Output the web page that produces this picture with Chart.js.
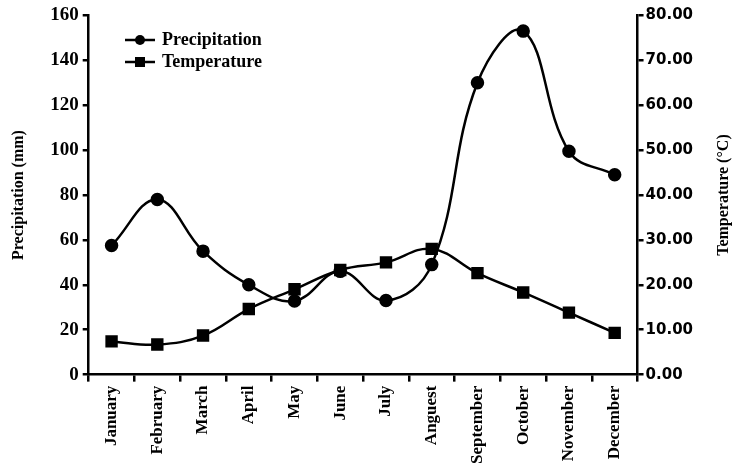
<!DOCTYPE html>
<html>
<head>
<meta charset="utf-8">
<script src="https://cdn.jsdelivr.net/npm/chart.js@4.4.1/dist/chart.umd.min.js"></script>
<style>
  html, body { margin: 0; padding: 0; background: #fff; }
  #wrap { width: 733px; height: 476px; }
</style>
</head>
<body>
<div id="wrap"><canvas id="chart" width="733" height="476"></canvas></div>
<script>
const months = ["January", "February", "March", "April", "May", "June", "July", "Anguest", "September", "October", "November", "December"];
const precipitation = [57.5, 78, 55, 40, 32.8, 46, 33, 49, 130, 153, 99.5, 89];
const temperature = [7.4, 6.7, 8.7, 14.6, 19, 23.3, 25, 28, 22.6, 18.3, 13.8, 9.3];

const serif = "'Liberation Serif', 'Times New Roman', serif";
const sans = "'DejaVu Sans', sans-serif";

// legend + right title drawn by hand to match the original
const extras = {
    id: "extras",
    afterDraw(chart) {
        const ctx = chart.ctx;
        ctx.save();
        ctx.strokeStyle = "#000";
        ctx.fillStyle = "#000";
        ctx.lineWidth = 2.5;
        const items = [
            { label: "Precipitation", y: 40, style: "circle" },
            { label: "Temperature", y: 62, style: "rect" }
        ];
        items.forEach(it => {
            ctx.beginPath();
            ctx.moveTo(125, it.y);
            ctx.lineTo(155, it.y);
            ctx.stroke();
            if (it.style === "circle") {
                ctx.beginPath();
                ctx.arc(140, it.y, 5, 0, Math.PI * 2);
                ctx.fill();
            } else {
                ctx.fillRect(135, it.y - 5, 10, 10);
            }
            ctx.font = "bold 18px " + serif;
            ctx.textBaseline = "middle";
            ctx.textAlign = "left";
            ctx.fillText(it.label, 162, it.y);
        });
        // right axis title, reading bottom to top
        const a = chart.chartArea;
        ctx.translate(chart.width - 9, (a.top + a.bottom) / 2);
        ctx.rotate(-Math.PI / 2);
        ctx.textAlign = "center";
        ctx.textBaseline = "middle";
        ctx.font = "bold 16px " + serif;
        ctx.fillText("Temperature (\u00B0C)", 0, 0);
        ctx.restore();
    }
};

new Chart(document.getElementById("chart"), {
    type: "line",
    data: {
        labels: months,
        datasets: [
            {
                label: "Precipitation",
                data: precipitation,
                yAxisID: "y",
                borderColor: "#000",
                backgroundColor: "#000",
                borderWidth: 2.5,
                tension: 0.4,
                pointStyle: "circle",
                pointRadius: 5.5,
                pointHoverRadius: 5.5
            },
            {
                label: "Temperature",
                data: temperature,
                yAxisID: "y1",
                borderColor: "#000",
                backgroundColor: "#000",
                borderWidth: 2.5,
                tension: 0.4,
                pointStyle: "rect",
                pointRadius: 7,
                pointHoverRadius: 7
            }
        ]
    },
    options: {
        responsive: false,
        animation: false,
        layout: { padding: { top: 15, right: 38, left: 9, bottom: 8 } },
        plugins: { legend: { display: false }, tooltip: { enabled: false } },
        scales: {
            x: {
                offset: true,
                grid: { offset: true, drawOnChartArea: false, drawTicks: true, tickLength: 7, color: "#000", lineWidth: 2.5 },
                border: { display: true, color: "#000", width: 2.5 },
                ticks: {
                    color: "#000",
                    font: { family: serif, size: 17, weight: "bold" },
                    minRotation: 90,
                    maxRotation: 90,
                    padding: 4,
                    autoSkip: false
                }
            },
            y: {
                position: "left",
                min: 0,
                max: 160,
                grid: { drawOnChartArea: false, drawTicks: true, tickLength: 6, color: "#000", lineWidth: 2.5 },
                border: { display: true, color: "#000", width: 2.5 },
                ticks: {
                    stepSize: 20,
                    color: "#000",
                    padding: 4,
                    font: { family: serif, size: 19, weight: "bold" }
                },
                title: {
                    display: true,
                    text: "Precipitation (mm)",
                    color: "#000",
                    font: { family: serif, size: 16, weight: "bold" },
                    padding: { top: 0, bottom: 18 }
                }
            },
            y1: {
                position: "right",
                min: 0,
                max: 80,
                grid: { drawOnChartArea: false, drawTicks: true, tickLength: 6, color: "#000", lineWidth: 2.5 },
                border: { display: true, color: "#000", width: 2.5 },
                ticks: {
                    stepSize: 10,
                    color: "#000",
                    padding: 2,
                    font: { family: sans, size: 15, weight: "bold" },
                    callback: v => Number(v).toFixed(2)
                }
            }
        }
    },
    plugins: [extras]
});
</script>
</body>
</html>
